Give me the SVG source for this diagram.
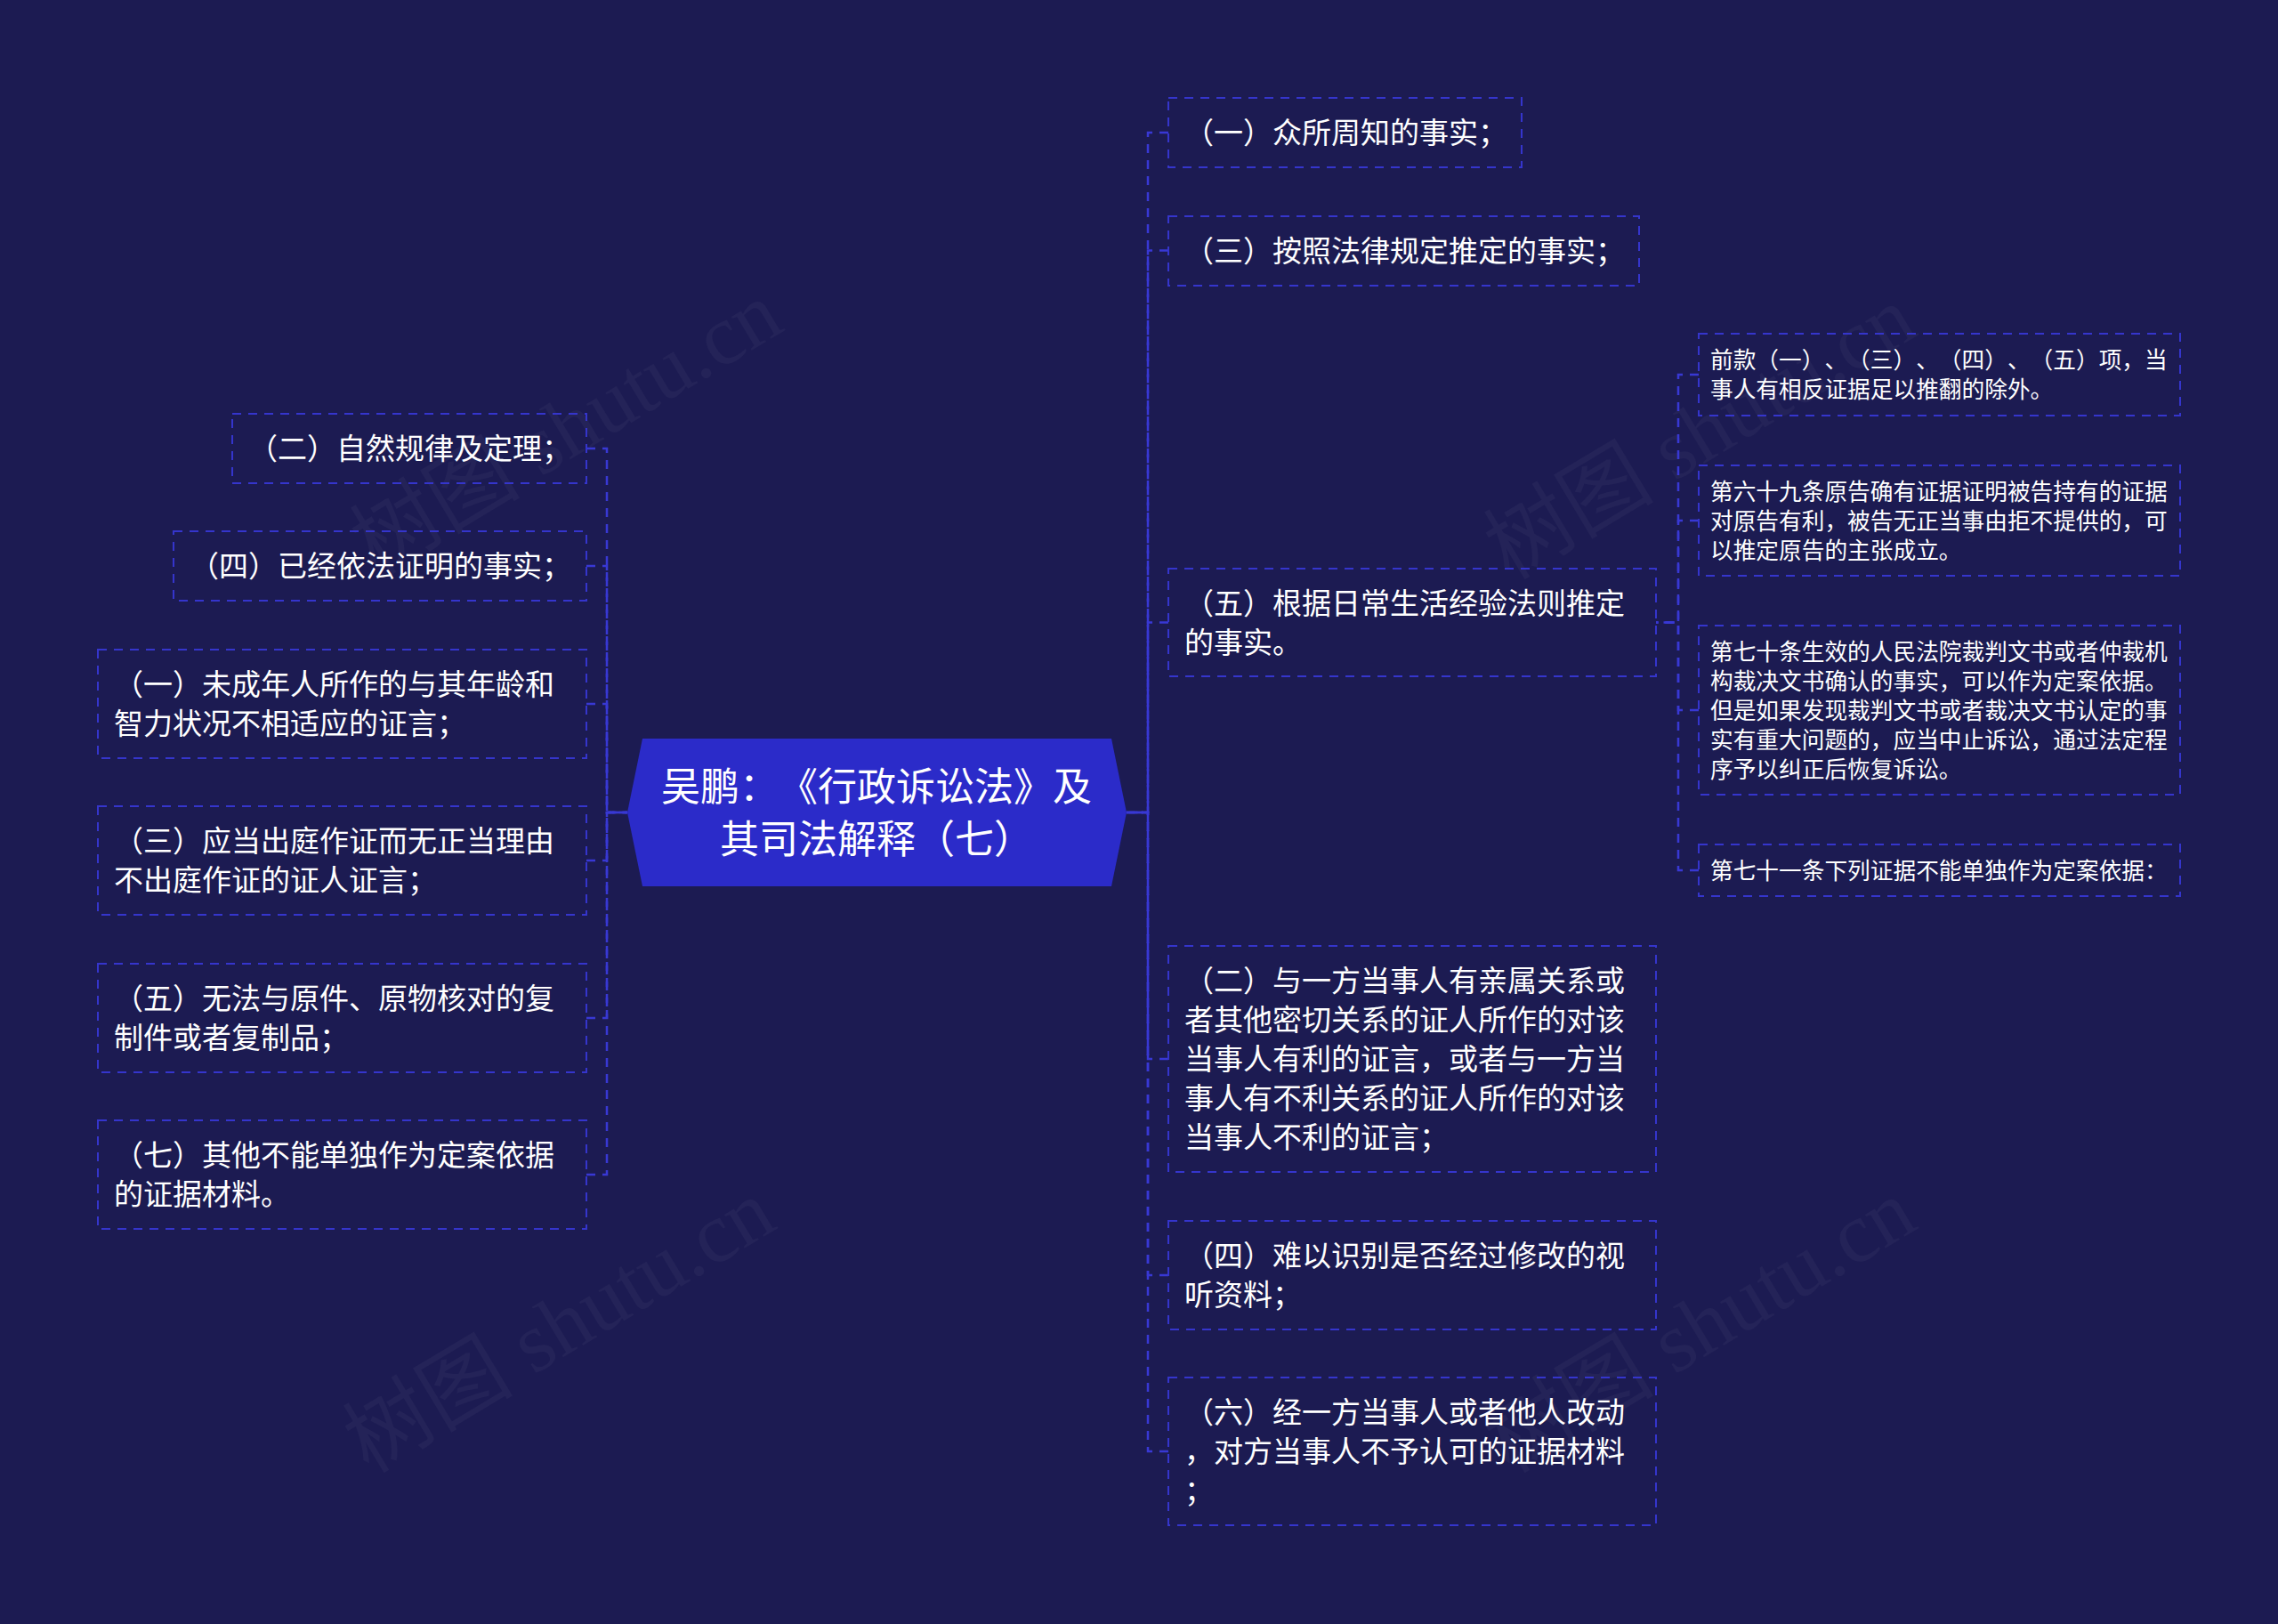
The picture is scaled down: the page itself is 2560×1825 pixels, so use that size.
<svg xmlns="http://www.w3.org/2000/svg" width="2560" height="1825" viewBox="0 0 2560 1825">
<style>
.bg{fill:#1c1b52}
.box{fill:none;stroke:#3535cc;stroke-width:2;stroke-dasharray:10 8}
.t{font-family:"Noto Sans CJK SC","Noto Sans",sans-serif;fill:#ffffff;text-spacing-trim:space-all;font-feature-settings:"halt" 0,"chws" 0,"palt" 0}
.lg{font-size:33px}
.sm{font-size:25.7px}
.ct{font-size:44px;text-anchor:middle}
.cn{fill:none;stroke:#3838d4;stroke-width:2.5;stroke-dasharray:10 8}
.wm{font-family:"Liberation Serif","Noto Sans CJK SC",serif;font-size:96px;fill:#ffffff;fill-opacity:0.035}
</style>
<rect class="bg" x="0" y="0" width="2560" height="1825"/>
<g id="watermarks">
<text class="wm" x="653" y="509" text-anchor="middle" transform="rotate(-31 653 509)">树图 shutu.cn</text>
<text class="wm" x="645" y="1518" text-anchor="middle" transform="rotate(-31 645 1518)">树图 shutu.cn</text>
<text class="wm" x="1927" y="514" text-anchor="middle" transform="rotate(-31 1927 514)">树图 shutu.cn</text>
<text class="wm" x="1927" y="1518" text-anchor="middle" transform="rotate(-31 1927 1518)">树图 shutu.cn</text>
</g>
<g id="connectors">
<path class="cn" d="M659,504 H682 V913 H705"/>
<path class="cn" d="M659,636 H682 V913 H705"/>
<path class="cn" d="M659,791 H682 V913 H705"/>
<path class="cn" d="M659,967 H682 V913 H705"/>
<path class="cn" d="M659,1144 H682 V913 H705"/>
<path class="cn" d="M659,1320 H682 V913 H705"/>
<path class="cn" d="M1313,149 H1290 V913 H1266"/>
<path class="cn" d="M1313,281.5 H1290 V913 H1266"/>
<path class="cn" d="M1313,699.5 H1290 V913 H1266"/>
<path class="cn" d="M1313,1190 H1290 V913 H1266"/>
<path class="cn" d="M1313,1433 H1290 V913 H1266"/>
<path class="cn" d="M1313,1631 H1290 V913 H1266"/>
<path class="cn" d="M1909,421 H1886 V699.5 H1861"/>
<path class="cn" d="M1909,585 H1886 V699.5 H1861"/>
<path class="cn" d="M1909,798 H1886 V699.5 H1861"/>
<path class="cn" d="M1909,978 H1886 V699.5 H1861"/>
</g>
<g id="root">
<polygon points="705,913 722,830 1249,830 1266,913 1249,996 722,996" fill="#2b2bc9"/>
<text class="t ct" x="985" y="900">吴鹏：《行政诉讼法》及</text>
<text class="t ct" x="985" y="959">其司法解释（七）</text>
</g>
<g id="r1"><rect class="box" x="1313" y="110" width="397" height="78"/>
<text class="t lg" x="1331" y="161">（一）众所周知的事实；</text></g>
<g id="r2"><rect class="box" x="1313" y="243" width="529" height="78"/>
<text class="t lg" x="1331" y="294">（三）按照法律规定推定的事实；</text></g>
<g id="r3"><rect class="box" x="1313" y="639" width="548" height="121"/>
<text class="t lg" x="1331" y="690">（五）根据日常生活经验法则推定</text>
<text class="t lg" x="1331" y="734">的事实。</text></g>
<g id="r4"><rect class="box" x="1313" y="1063" width="548" height="254"/>
<text class="t lg" x="1331" y="1114">（二）与一方当事人有亲属关系或</text>
<text class="t lg" x="1331" y="1158">者其他密切关系的证人所作的对该</text>
<text class="t lg" x="1331" y="1202">当事人有利的证言，或者与一方当</text>
<text class="t lg" x="1331" y="1246">事人有不利关系的证人所作的对该</text>
<text class="t lg" x="1331" y="1290">当事人不利的证言；</text></g>
<g id="r5"><rect class="box" x="1313" y="1372" width="548" height="122"/>
<text class="t lg" x="1331" y="1423">（四）难以识别是否经过修改的视</text>
<text class="t lg" x="1331" y="1467">听资料；</text></g>
<g id="r6"><rect class="box" x="1313" y="1548" width="548" height="166"/>
<text class="t lg" x="1331" y="1599">（六）经一方当事人或者他人改动</text>
<text class="t lg" x="1331" y="1643">，对方当事人不予认可的证据材料</text>
<text class="t lg" x="1331" y="1687">；</text></g>
<g id="l1"><rect class="box" x="261" y="465" width="398" height="78"/>
<text class="t lg" x="279" y="516">（二）自然规律及定理；</text></g>
<g id="l2"><rect class="box" x="195" y="597" width="464" height="78"/>
<text class="t lg" x="213" y="648">（四）已经依法证明的事实；</text></g>
<g id="l3"><rect class="box" x="110" y="730" width="549" height="122"/>
<text class="t lg" x="128" y="781">（一）未成年人所作的与其年龄和</text>
<text class="t lg" x="128" y="825">智力状况不相适应的证言；</text></g>
<g id="l4"><rect class="box" x="110" y="906" width="549" height="122"/>
<text class="t lg" x="128" y="957">（三）应当出庭作证而无正当理由</text>
<text class="t lg" x="128" y="1001">不出庭作证的证人证言；</text></g>
<g id="l5"><rect class="box" x="110" y="1083" width="549" height="122"/>
<text class="t lg" x="128" y="1134">（五）无法与原件、原物核对的复</text>
<text class="t lg" x="128" y="1178">制件或者复制品；</text></g>
<g id="l6"><rect class="box" x="110" y="1259" width="549" height="122"/>
<text class="t lg" x="128" y="1310">（七）其他不能单独作为定案依据</text>
<text class="t lg" x="128" y="1354">的证据材料。</text></g>
<g id="s1"><rect class="box" x="1909" y="375" width="541" height="92"/>
<text class="t sm" x="1922" y="414">前款（一）、（三）、（四）、（五）项，当</text>
<text class="t sm" x="1922" y="447">事人有相反证据足以推翻的除外。</text></g>
<g id="s2"><rect class="box" x="1909" y="523" width="541" height="124"/>
<text class="t sm" x="1922" y="562">第六十九条原告确有证据证明被告持有的证据</text>
<text class="t sm" x="1922" y="595">对原告有利，被告无正当事由拒不提供的，可</text>
<text class="t sm" x="1922" y="628">以推定原告的主张成立。</text></g>
<g id="s3"><rect class="box" x="1909" y="703" width="541" height="190"/>
<text class="t sm" x="1922" y="742">第七十条生效的人民法院裁判文书或者仲裁机</text>
<text class="t sm" x="1922" y="775">构裁决文书确认的事实，可以作为定案依据。</text>
<text class="t sm" x="1922" y="808">但是如果发现裁判文书或者裁决文书认定的事</text>
<text class="t sm" x="1922" y="841">实有重大问题的，应当中止诉讼，通过法定程</text>
<text class="t sm" x="1922" y="874">序予以纠正后恢复诉讼。</text></g>
<g id="s4"><rect class="box" x="1909" y="949" width="541" height="58"/>
<text class="t sm" x="1922" y="988">第七十一条下列证据不能单独作为定案依据：</text></g>
</svg>
